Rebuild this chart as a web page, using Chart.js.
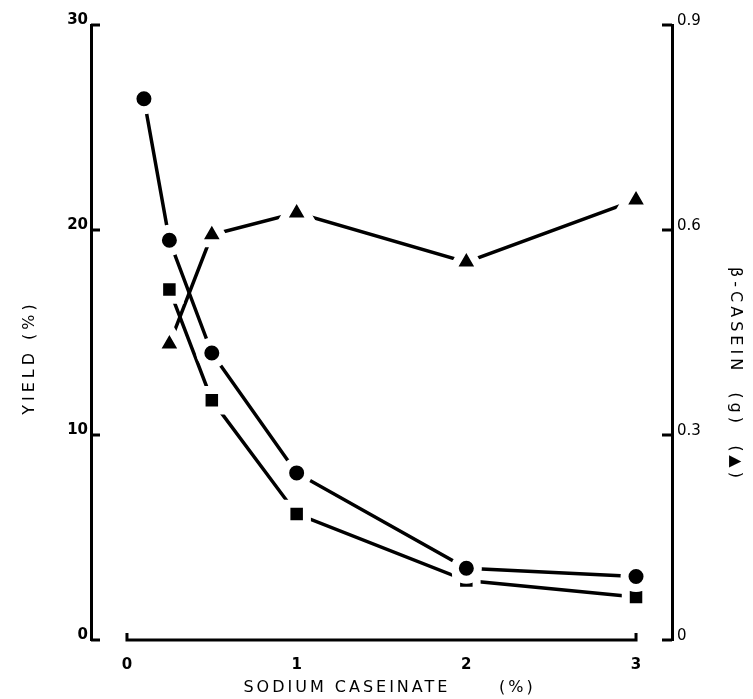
<!DOCTYPE html>
<html>
<head>
<meta charset="utf-8">
<script src="https://cdn.jsdelivr.net/npm/chart.js@4.4.0/dist/chart.umd.min.js"></script>
<style>
  html, body { margin: 0; padding: 0; background: #fff; }
  #wrap { width: 753px; height: 699px; }
</style>
</head>
<body>
<div id="wrap"><canvas id="chart" width="753" height="699"></canvas></div>
<script>
// sodium caseinate (%) vs yield (%) and beta-casein (g)
const caseinateCircle = [0.1, 0.25, 0.5, 1, 2, 3];
const yieldCircle = [26.4, 19.5, 14.0, 8.15, 3.5, 3.1];
const caseinateSquare = [0.25, 0.5, 1, 2, 3];
const yieldSquare = [17.1, 11.7, 6.15, 2.9, 2.1];
const caseinateTriangle = [0.25, 0.5, 1, 2, 3];
const betaCasein = [0.433, 0.593, 0.625, 0.553, 0.644];

const xTicks = [0, 1, 2, 3];
const yieldTicks = [0, 10, 20, 30];
const caseinTicks = [0, 0.3, 0.6, 0.9];

const FONT = "'DejaVu Sans', sans-serif";

function toPoints(xs, ys) {
    return xs.map((v, i) => ({ x: v, y: ys[i] }));
}

// nudge an axis title and space its letters out
function titleTweak(dx, dy, spacing) {
    return function (scale) {
        if (scale._tweaked) return;
        const draw = scale.drawTitle.bind(scale);
        scale.drawTitle = function () {
            const ctx = this.ctx;
            ctx.save();
            ctx.translate(dx, dy);
            ctx.letterSpacing = spacing;
            draw();
            ctx.restore();
        };
        scale._tweaked = true;
    };
}

// short inward tick marks and the x axis line between 0 and 3
const axisStubs = {
    id: 'axisStubs',
    beforeDatasetsDraw(chart) {
        const ctx = chart.ctx;
        const { x, y, y2 } = chart.scales;
        const area = chart.chartArea;
        ctx.save();
        ctx.strokeStyle = '#000';
        ctx.lineWidth = 3;
        ctx.beginPath();
        yieldTicks.forEach(v => {
            const py = y.getPixelForValue(v);
            ctx.moveTo(area.left, py);
            ctx.lineTo(area.left + 9, py);
        });
        caseinTicks.forEach(v => {
            const py = y2.getPixelForValue(v);
            ctx.moveTo(area.right - 10, py);
            ctx.lineTo(area.right, py);
        });
        const xa = x.getPixelForValue(xTicks[0]);
        const xb = x.getPixelForValue(xTicks[xTicks.length - 1]);
        ctx.moveTo(xa, area.bottom - 7);
        ctx.lineTo(xa, area.bottom);
        ctx.lineTo(xb, area.bottom);
        ctx.lineTo(xb, area.bottom - 7);
        ctx.stroke();
        ctx.restore();
    }
};

const lineStyle = {
    borderColor: '#000',
    borderWidth: 3.5,
    backgroundColor: '#000',
    pointBorderColor: '#fff',
    pointBorderWidth: 8,
    fill: false,
    tension: 0
};

new Chart(document.getElementById('chart').getContext('2d'), {
    type: 'line',
    data: {
        datasets: [
            {
                ...lineStyle,
                label: 'Yield (circles)',
                data: toPoints(caseinateCircle, yieldCircle),
                pointStyle: 'circle',
                pointRadius: 11.5,
                yAxisID: 'y'
            },
            {
                ...lineStyle,
                label: 'Yield (squares)',
                data: toPoints(caseinateSquare, yieldSquare),
                pointStyle: 'rect',
                pointRadius: 14.5,
                yAxisID: 'y'
            },
            {
                ...lineStyle,
                label: 'beta-casein',
                data: toPoints(caseinateTriangle, betaCasein),
                pointStyle: 'triangle',
                pointRadius: 17,
                yAxisID: 'y2'
            }
        ]
    },
    options: {
        responsive: false,
        animation: false,
        layout: { padding: { top: 23, left: 0, right: 0, bottom: 0 } },
        plugins: {
            legend: { display: false },
            tooltip: { enabled: false }
        },
        scales: {
            x: {
                type: 'linear',
                min: -0.212,
                max: 3.212,
                afterBuildTicks: scale => { scale.ticks = xTicks.map(v => ({ value: v })); },
                afterFit: scale => { scale.height = 59; },
                afterUpdate: titleTweak(8, -2, '3px'),
                grid: { display: false },
                border: { display: false },
                ticks: {
                    color: '#000',
                    padding: 8,
                    font: { family: FONT, size: 15, weight: 'bold' },
                    callback: v => String(v)
                },
                title: {
                    display: true,
                    text: 'SODIUM CASEINATE      (%)',
                    color: '#000',
                    font: { family: FONT, size: 16 },
                    padding: { top: 4, bottom: 0 }
                }
            },
            y: {
                type: 'linear',
                position: 'left',
                min: 0,
                max: 30,
                afterBuildTicks: scale => { scale.ticks = yieldTicks.map(v => ({ value: v })); },
                afterFit: scale => { scale.width = 91; },
                afterUpdate: titleTweak(0, 25, '4px'),
                grid: { display: false, drawTicks: false },
                border: { display: true, color: '#000', width: 3 },
                ticks: {
                    color: '#000',
                    padding: 3,
                    labelOffset: -5,
                    font: { family: FONT, size: 15, weight: 'bold' }
                },
                title: {
                    display: true,
                    text: 'YIELD (%)',
                    color: '#000',
                    font: { family: FONT, size: 16 },
                    padding: { top: 20, bottom: 0 }
                }
            },
            y2: {
                type: 'linear',
                position: 'right',
                min: 0,
                max: 0.9,
                afterBuildTicks: scale => { scale.ticks = caseinTicks.map(v => ({ value: v })); },
                afterFit: scale => { scale.width = 81; },
                afterUpdate: titleTweak(0, 42, '4px'),
                grid: { display: false, drawTicks: false },
                border: { display: true, color: '#000', width: 3 },
                ticks: {
                    color: '#000',
                    padding: 5,
                    labelOffset: -4,
                    font: { family: FONT, size: 15 },
                    callback: v => (v === 0 ? '0' : v.toFixed(1))
                },
                title: {
                    display: true,
                    text: 'β-CASEIN  (g)  (▲)',
                    color: '#000',
                    font: { family: FONT, size: 16 },
                    padding: { top: 8, bottom: 0 }
                }
            }
        }
    },
    plugins: [axisStubs]
});
</script>
</body>
</html>
